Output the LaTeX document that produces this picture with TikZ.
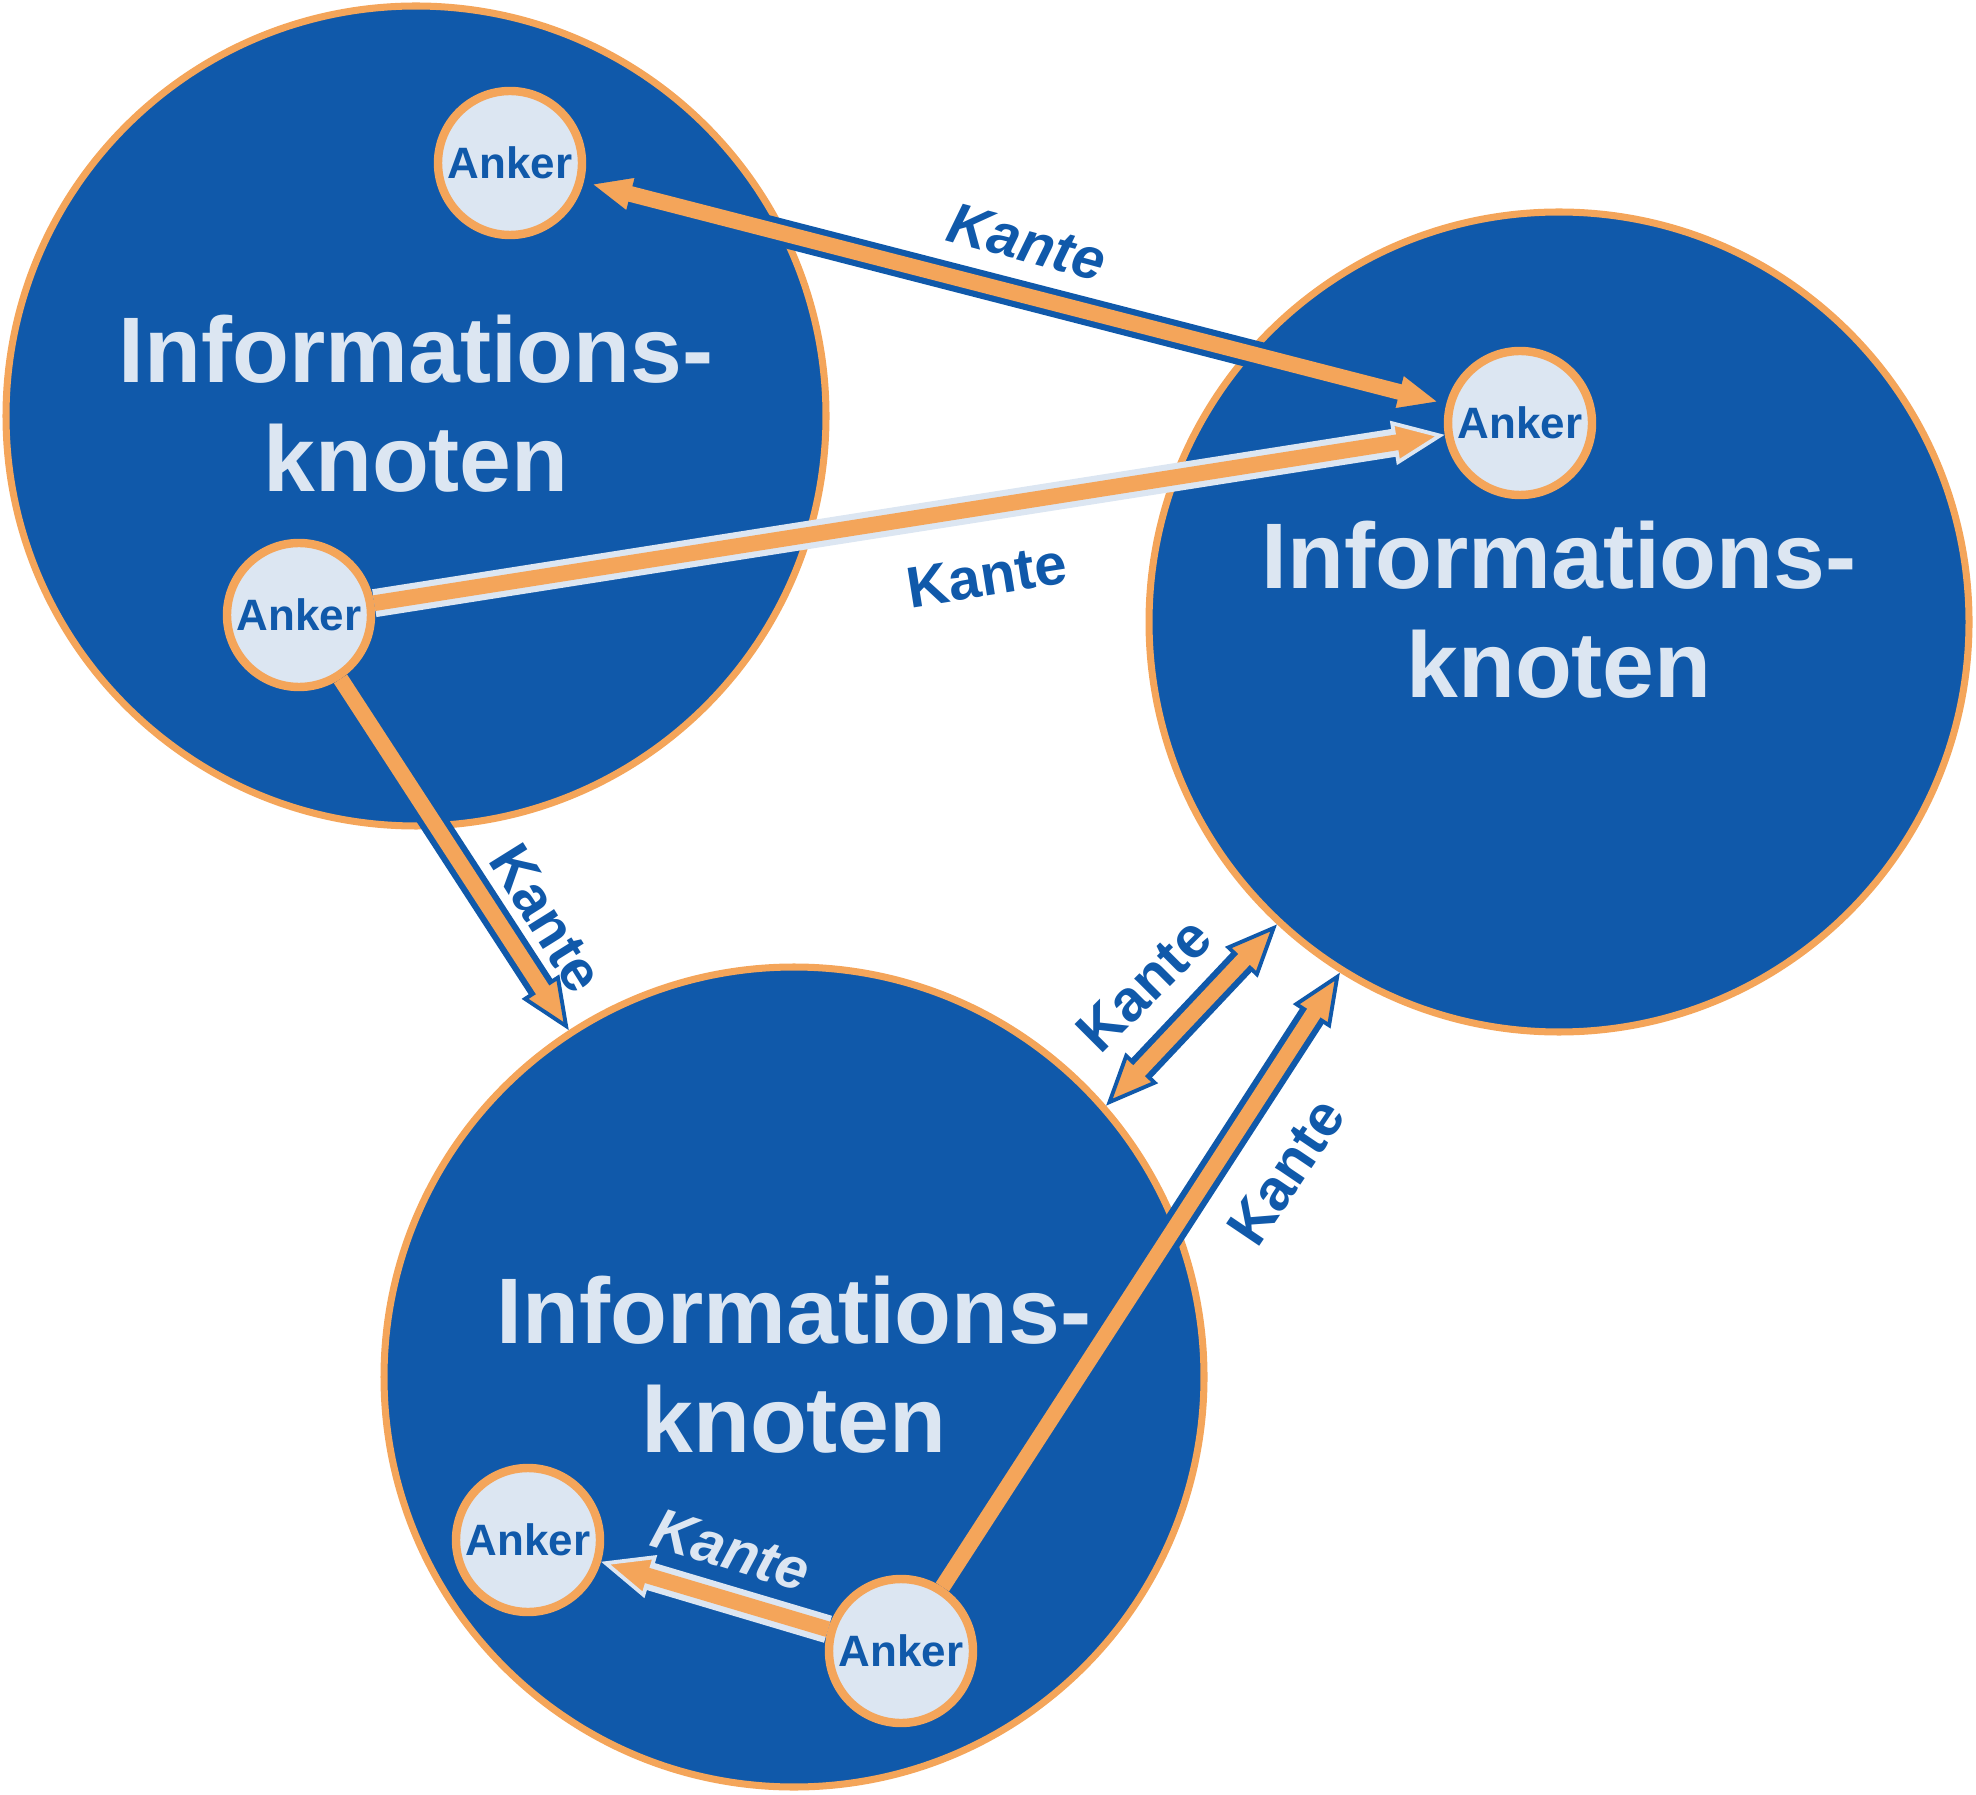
\documentclass[tikz,border=0pt]{standalone}
\usepackage{fontspec}
\setmainfont{Liberation Sans}
\usepackage{tikz}
\usetikzlibrary{arrows.meta,calc,positioning}
\definecolor{knotenblau}{HTML}{1059AA}
\definecolor{kantorange}{HTML}{F4A55A}
\definecolor{ankerhell}{HTML}{DCE6F2}
\pgfdeclarelayer{grund}
\pgfdeclarelayer{kanten}
\pgfsetlayers{grund,kanten,main}

\begin{document}
\begin{tikzpicture}[x=0.1mm,y=-0.1mm,
  spitze/.tip={Triangle[length=5.2mm,width=4.4mm,line width=1.1pt,fill=kantorange]},
  infoknoten/.style={circle,draw=kantorange,line width=2pt,fill=knotenblau,minimum size=82mm,inner sep=0pt,
    text=ankerhell,align=center,text depth=7.5pt,font=\fontsize{26.5pt}{31pt}\selectfont\bfseries},
  anker/.style={circle,draw=kantorange,line width=2.4pt,fill=ankerhell,minimum size=14.4mm,inner sep=0pt,
    text=knotenblau,font=\fontsize{12.5pt}{15pt}\selectfont\bfseries},
  kante/.style={line width=8pt,draw=knotenblau},
  kantehell/.style={line width=8pt,draw=ankerhell},
  kern/.style={line width=4.5pt,draw=kantorange},
  kantentext/.style={inner sep=0pt,text=knotenblau,font=\fontsize{16.5pt}{18pt}\selectfont\bfseries}]
\useasboundingbox (0,0) rectangle (1976,1795);

% Informationsknoten
\begin{pgfonlayer}{grund}
\node[infoknoten] (infoA) at (416,416) {Informations-\\knoten};
\node[infoknoten] (infoB) at (1559,622) {Informations-\\knoten};
\node[infoknoten] (infoC) at (794,1377) {Informations-\\knoten};
\end{pgfonlayer}

% Anker
\node[anker] (ankerA1) at (510,163) {Anker};
\node[anker] (ankerA2) at (299,615) {Anker};
\node[anker] (ankerB) at (1520,423) {Anker};
\node[anker] (ankerC1) at (528,1540) {Anker};
\node[anker] (ankerC2) at (901,1651) {Anker};

% Kanten
\begin{pgfonlayer}{kanten}
\draw[kante,spitze-spitze] (ankerA1) -- (ankerB);
\draw[kern,shorten <=4.6mm,shorten >=4.6mm] (ankerA1) -- (ankerB);
\draw[kantehell,-spitze] (ankerA2) -- (ankerB);
\draw[kern,shorten >=4.6mm] (ankerA2) -- (ankerB);
\draw[kante,-spitze] (ankerA2) -- (infoC.123.4);
\draw[kern,shorten >=4.6mm] (ankerA2) -- (infoC.123.4);
\draw[kante,spitze-spitze] (infoC.41.4) -- (infoB.227.3);
\draw[kern,shorten <=4.6mm,shorten >=4.6mm] (infoC.41.4) -- (infoB.227.3);
\draw[kante,-spitze] (ankerC2) -- (infoB.238.6);
\draw[kern,shorten >=4.6mm] (ankerC2) -- (infoB.238.6);
\draw[kantehell,-spitze] (ankerC2) -- (ankerC1);
\draw[kern,shorten >=4.6mm] (ankerC2) -- (ankerC1);
\end{pgfonlayer}

% Beschriftung der Kanten
\node[kantentext,rotate=-15,font=\fontsize{16.5pt}{18pt}\selectfont\bfseries\itshape] (kanteAB) at (1027,242) {Kante};
\node[kantentext,rotate=9] (kanteA2B) at (987,576) {Kante};
\node[kantentext,rotate=-58] (kanteA2C) at (547,918) {Kante};
\node[kantentext,rotate=45] (kanteCB) at (1144,985) {Kante};
\node[kantentext,rotate=56] (kanteC2B) at (1286,1172) {Kante};
\node[kantentext,rotate=-17,text=ankerhell,font=\fontsize{16.5pt}{18pt}\selectfont\bfseries\itshape] (kanteC2C1) at (731,1550) {Kante};
\end{tikzpicture}
\end{document}
